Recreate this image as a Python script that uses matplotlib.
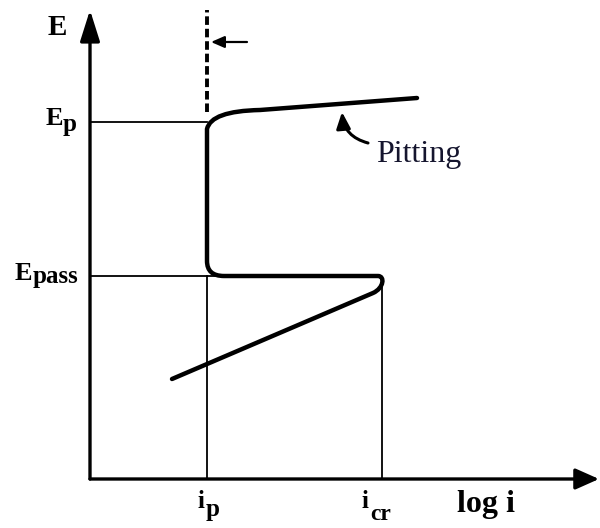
import matplotlib
matplotlib.use("Agg")
import matplotlib.pyplot as plt
from matplotlib.path import Path
from matplotlib.patches import PathPatch, FancyArrowPatch

plt.rcParams['font.family'] = ['Liberation Serif', 'DejaVu Serif']

# characteristic points of the polarization curve (log i, E)
i_p, i_cr = 11.7, 29.0
E_p, E_pass = 35.7, 20.3
pitting_i = [32.7, 17.0]
pitting_E = [38.1, 36.9]
active_i = [28.3, 8.2]
active_E = [18.6, 10.0]
i_max, E_max = 50.9, 46.9

fig = plt.figure(figsize=(6, 5.28), dpi=100)
ax = fig.add_axes([0, 0, 1, 1])
ax.set_xlim(-9, 51)
ax.set_ylim(-4.9, 47.9)
ax.axis('off')

# axes with arrows
ax.add_patch(FancyArrowPatch((0, 0), (0, E_max), arrowstyle='-|>,head_length=0.95,head_width=0.3',
                             mutation_scale=20, lw=2.4, color='black', shrinkA=0, shrinkB=0))
ax.add_patch(FancyArrowPatch((0, 0), (i_max, 0), arrowstyle='-|>,head_length=0.72,head_width=0.32',
                             mutation_scale=20, lw=2.4, color='black', shrinkA=0, shrinkB=0))

# thin guide lines
ax.plot([0, i_p], [E_p, E_p], color='black', lw=1.3)
ax.plot([0, i_p + 1.7], [E_pass, E_pass], color='black', lw=1.3)
ax.plot([i_p, i_p], [0, E_pass], color='black', lw=1.3)
ax.plot([i_cr + 0.2, i_cr + 0.2], [0, E_pass - 0.6], color='black', lw=1.3)

# dashed passive current limit
ax.plot([i_p, i_p], [E_p + 1.0, E_max], color='black', lw=2.8, dashes=(2.2, 1.0))
ax.add_patch(FancyArrowPatch((i_p + 4.0, 43.7), (i_p + 0.4, 43.7),
                             arrowstyle='-|>,head_length=0.8,head_width=0.35',
                             mutation_scale=10, lw=1.6, color='black', shrinkA=0, shrinkB=0))

# polarization curve
verts = [(pitting_i[0], pitting_E[0]), (pitting_i[1], pitting_E[1]),
         (i_p + 0.4, pitting_E[1] - 0.1), (i_p, E_p - 0.7),
         (i_p, E_pass + 1.5),
         (i_p, E_pass), (i_p + 1.7, E_pass),
         (i_cr - 0.2, E_pass),
         (i_cr + 0.5, E_pass), (i_cr + 0.4, E_pass - 1.2), (active_i[0], active_E[0]),
         (active_i[1], active_E[1])]
codes = [Path.MOVETO, Path.LINETO,
         Path.CURVE3, Path.CURVE3,
         Path.LINETO,
         Path.CURVE3, Path.CURVE3,
         Path.LINETO,
         Path.CURVE4, Path.CURVE4, Path.CURVE4,
         Path.LINETO]
ax.add_patch(PathPatch(Path(verts, codes), fill=False, lw=3.2, color='black',
                       capstyle='round', joinstyle='round'))

# labels
bold = dict(fontweight='bold', color='black', va='baseline', ha='left')
ax.text(-4.2, 44.4, 'E', fontsize=21, **bold)
ax.text(-4.4, 35.4, 'E', fontsize=19, **bold)
ax.text(-2.7, 34.8, 'p', fontsize=18, **bold)
ax.text(-7.5, 19.9, 'E', fontsize=19, **bold)
ax.text(-5.7, 19.6, 'pass', fontsize=18, **bold)
ax.text(10.8, -2.9, 'i', fontsize=18, **bold)
ax.text(11.6, -3.7, 'p', fontsize=18, **bold)
ax.text(27.2, -2.9, 'i', fontsize=18, **bold)
ax.text(28.0, -4.1, 'cr', fontsize=17, **bold)
ax.text(36.7, -3.3, 'log i', fontsize=23, **bold)

ax.text(28.6, 31.7, 'Pitting', fontsize=23, color='#15152e', va='baseline', ha='left')
ax.annotate('', xy=(25.2, 36.7), xytext=(27.8, 33.6),
            arrowprops=dict(arrowstyle='-|>,head_length=0.7,head_width=0.3', lw=2.2,
                            color='black', connectionstyle='arc3,rad=-0.35',
                            shrinkA=0, shrinkB=0, mutation_scale=14))

fig.savefig('out.png', dpi=100)
